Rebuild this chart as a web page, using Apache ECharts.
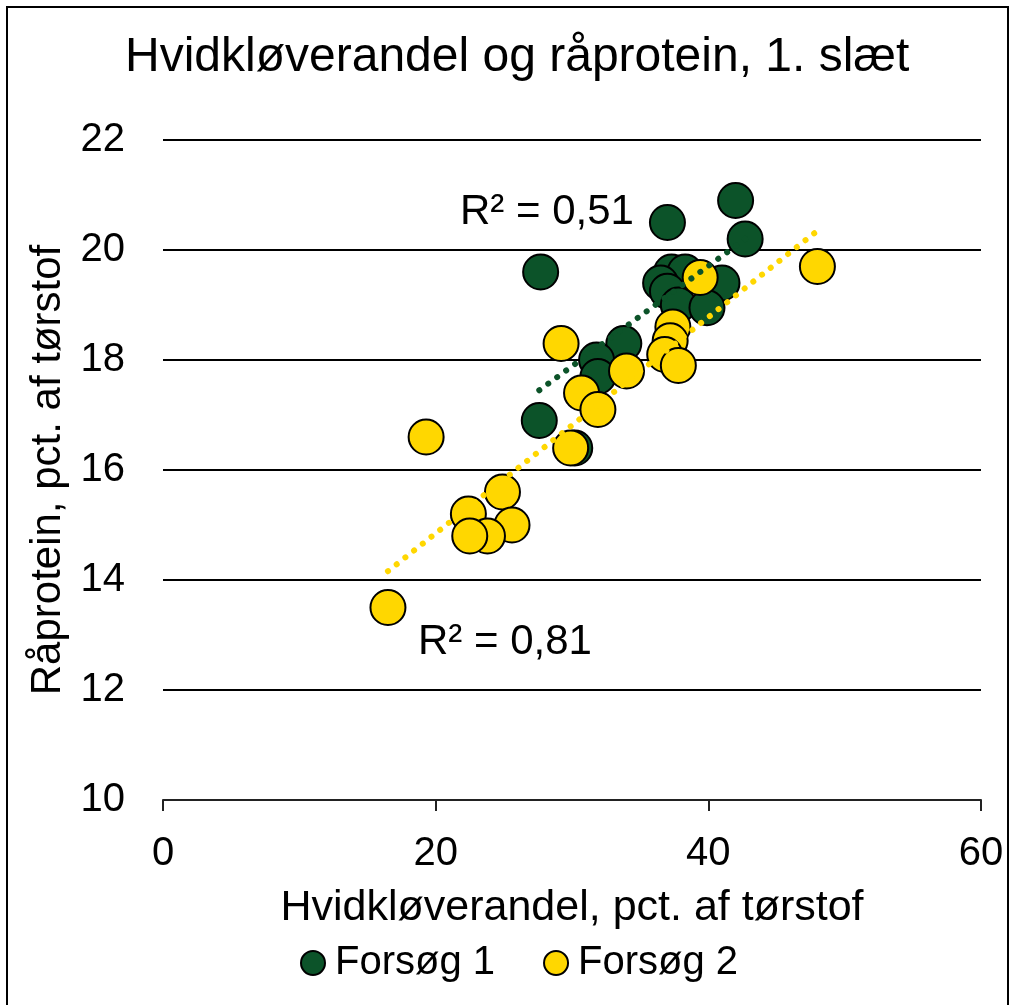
<!DOCTYPE html>
<html>
<head>
<meta charset="utf-8">
<script src="https://cdn.jsdelivr.net/npm/echarts@6/dist/echarts.min.js"></script>
<style>
  html, body { margin: 0; padding: 0; background: #fff; }
  #main { width: 1013px; height: 1005px; }
</style>
</head>
<body>
<div id="main"></div>
<script>
  // Forsøg 1 (grøn) - [hvidkløverandel, råprotein]
  var forsoeg1 = [
    [42.0, 20.9], [37.0, 20.5], [42.7, 20.2], [27.7, 19.6],
    [37.3, 19.6], [38.3, 19.6], [36.5, 19.4], [41.0, 19.4],
    [37.0, 19.25], [37.8, 19.0], [39.9, 18.95], [33.8, 18.3],
    [31.8, 18.0], [31.9, 17.7], [27.6, 16.9], [30.2, 16.4]
  ];
  // Forsøg 2 (gul)
  var forsoeg2 = [
    [48.0, 19.7], [39.4, 19.5], [37.4, 18.6], [37.2, 18.35],
    [36.8, 18.1], [37.8, 17.9], [29.2, 18.3], [34.0, 17.8],
    [30.7, 17.4], [31.9, 17.1], [29.9, 16.4], [19.3, 16.6],
    [24.9, 15.6], [22.4, 15.2], [25.6, 15.0], [23.8, 14.8],
    [22.5, 14.8], [16.5, 13.5]
  ];
  // tendenslinjer (start- og slutpunkt aflæst)
  var trend1 = [[27.6, 17.45], [42.7, 20.2]];
  var trend2 = [[16.5, 14.16], [48.0, 20.35]];
  var r2Labels = ['R² = 0,51', 'R² = 0,81'];
  var seriesNames = ['Forsøg 1', 'Forsøg 2'];

  var green = '#0c5329';
  var yellow = '#ffd700';
  var font = 'Liberation Sans, Arial, sans-serif';

  var myChart = echarts.init(document.getElementById('main'));

  var option = {
    backgroundColor: '#ffffff',
    animation: false,
    title: {
      text: 'Hvidkløverandel og råprotein, 1. slæt',
      left: 125,
      top: 34,
      padding: 0,
      textStyle: { fontFamily: font, fontSize: 48, fontWeight: 'normal', color: '#000' }
    },
    grid: { left: 163, right: 32, top: 140, bottom: 205 },
    legend: {
      data: seriesNames,
      left: 300,
      top: 943,
      padding: 0,
      icon: 'circle',
      itemWidth: 24,
      itemHeight: 24,
      itemGap: 48,
      textStyle: { fontFamily: font, fontSize: 40, color: '#000', padding: [0, 0, 0, 5] }
    },
    xAxis: {
      type: 'value',
      min: 0, max: 60, interval: 20,
      name: 'Hvidkløverandel, pct. af tørstof',
      nameLocation: 'middle',
      nameGap: 87,
      nameTextStyle: { fontFamily: font, fontSize: 43, color: '#000' },
      axisLine: { show: true, lineStyle: { color: '#222', width: 2 } },
      axisTick: { show: true, length: 11, lineStyle: { color: '#222', width: 2 } },
      axisLabel: { fontFamily: font, fontSize: 40, color: '#000', margin: 34 },
      splitLine: { show: false }
    },
    yAxis: {
      type: 'value',
      min: 10, max: 22, interval: 2,
      name: 'Råprotein, pct. af tørstof',
      nameLocation: 'middle',
      nameGap: 90,
      nameTextStyle: { fontFamily: font, fontSize: 42, color: '#000' },
      axisLine: { show: false },
      axisTick: { show: false },
      axisLabel: { fontFamily: font, fontSize: 40, color: '#000', margin: 38 },
      splitLine: { show: true, lineStyle: { color: '#000', width: 2 } }
    },
    series: [
      {
        name: seriesNames[0],
        type: 'scatter',
        data: forsoeg1,
        symbolSize: 35,
        z: 2,
        itemStyle: { color: green, borderColor: '#000', borderWidth: 2, opacity: 1 }
      },
      {
        name: seriesNames[1],
        type: 'scatter',
        data: forsoeg2,
        symbolSize: 35,
        z: 3,
        itemStyle: { color: yellow, borderColor: '#000', borderWidth: 2, opacity: 1 }
      },
      {
        type: 'line',
        data: trend1,
        showSymbol: false,
        silent: true,
        z: 4,
        lineStyle: { color: green, width: 6, type: [0.1, 11], cap: 'round' }
      },
      {
        type: 'line',
        data: trend2,
        showSymbol: false,
        silent: true,
        z: 4,
        lineStyle: { color: yellow, width: 6, type: [0.1, 11], cap: 'round' }
      }
    ],
    graphic: [
      {
        type: 'rect',
        shape: { x: 7, y: 7, width: 1001, height: 1005 },
        style: { fill: 'none', stroke: '#000', lineWidth: 2 },
        silent: true
      },
      {
        type: 'text',
        left: 460, top: 191,
        style: { text: r2Labels[0], font: '42px ' + font, fill: '#000' }
      },
      {
        type: 'text',
        left: 418, top: 621,
        style: { text: r2Labels[1], font: '42px ' + font, fill: '#000' }
      }
    ]
  };

  myChart.setOption(option);
</script>
</body>
</html>
